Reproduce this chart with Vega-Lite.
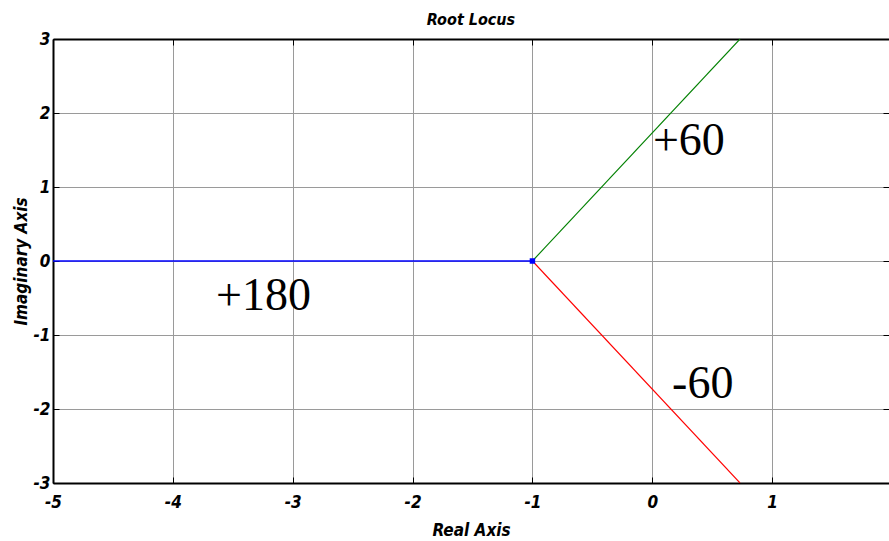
{
  "$schema": "https://vega.github.io/schema/vega-lite/v6.json",
  "width": 836,
  "height": 444,
  "autosize": {"type": "none"},
  "padding": {"left": 53, "top": 39, "right": 0, "bottom": 58},
  "background": "white",
  "title": {"text": "Root Locus", "font": "DejaVu Sans Condensed, Liberation Sans, Arial, sans-serif", "fontSize": 16, "fontStyle": "italic", "fontWeight": "bold", "color": "black", "offset": 2, "anchor": "middle"},
  "config": {
    "view": {"stroke": null},
    "axis": {
      "labelFont": "DejaVu Sans Condensed, Liberation Sans, Arial, sans-serif",
      "labelFontSize": 17,
      "labelFontStyle": "italic",
      "labelFontWeight": "bold",
      "labelColor": "black",
      "labelExpr": "datum.value < 0 ? '-' + abs(datum.value) : '' + datum.value",
      "titleFont": "DejaVu Sans Condensed, Liberation Sans, Arial, sans-serif",
      "titleFontSize": 17,
      "titleFontStyle": "italic",
      "titleFontWeight": "bold",
      "titleColor": "black",
      "domainColor": "black",
      "domainWidth": 2,
      "tickColor": "black",
      "tickWidth": 1,
      "tickSize": -6,
      "gridColor": "#9a9a9a",
      "gridWidth": 1,
      "labelFlush": false,
      "labelOverlap": false
    }
  },
  "datasets": {
    "locus": [
      {"series": "180", "re": -5, "im": 0},
      {"series": "180", "re": -1, "im": 0},
      {"series": "+60", "re": -1, "im": 0},
      {"series": "+60", "re": 0.732, "im": 3},
      {"series": "-60", "re": -1, "im": 0},
      {"series": "-60", "re": 0.732, "im": -3}
    ],
    "pole": [{"re": -1, "im": 0}],
    "notes": [
      {"re": 0.005, "im": 1.432, "label": "+60"},
      {"re": -3.64, "im": -0.662, "label": "+180"},
      {"re": 0.165, "im": -1.851, "label": "-60"}
    ]
  },
  "resolve": {"axis": {"x": "independent", "y": "independent"}},
  "layer": [
    {
      "data": {"name": "locus"},
      "transform": [{"filter": "datum.series != '180'"}],
      "mark": {"type": "line", "strokeWidth": 1.1, "clip": true},
      "encoding": {
        "x": {"field": "re", "type": "quantitative", "scale": {"domain": [-5, 1.975], "nice": false, "zero": false},
          "axis": {"orient": "bottom", "values": [-5, -4, -3, -2, -1, 0, 1, 2], "title": "Real Axis", "grid": true, "labelPadding": 17, "titlePadding": 12}},
        "y": {"field": "im", "type": "quantitative", "scale": {"domain": [-3, 3], "nice": false, "zero": false},
          "axis": {"orient": "left", "values": [-3, -2, -1, 0, 1, 2, 3], "title": "Imaginary Axis", "grid": true, "labelPadding": 9, "titlePadding": 3}},
        "color": {"field": "series", "type": "nominal", "scale": {"domain": ["180", "+60", "-60"], "range": ["#0000ff", "#008000", "#ff0000"]}, "legend": null}
      }
    },
    {
      "data": {"name": "locus"},
      "transform": [{"filter": "datum.series == '180'"}],
      "mark": {"type": "line", "strokeWidth": 1.6, "clip": true},
      "encoding": {
        "x": {"field": "re", "type": "quantitative", "axis": null},
        "y": {"field": "im", "type": "quantitative", "axis": null},
        "color": {"field": "series", "type": "nominal", "legend": null}
      }
    },
    {
      "data": {"name": "pole"},
      "mark": {"type": "square", "filled": true, "size": 30, "color": "#0000ff", "opacity": 1},
      "encoding": {
        "x": {"field": "re", "type": "quantitative",
          "axis": {"orient": "top", "values": [-5, -4, -3, -2, -1, 0, 1, 2], "labels": false, "title": null, "grid": false}},
        "y": {"field": "im", "type": "quantitative",
          "axis": {"orient": "right", "values": [-3, -2, -1, 0, 1, 2, 3], "labels": false, "title": null, "grid": false, "domain": false}}
      }
    },
    {
      "data": {"name": "notes"},
      "mark": {"type": "text", "font": "Times New Roman, Liberation Serif, DejaVu Serif, serif", "fontSize": 46, "align": "left", "baseline": "alphabetic", "color": "black"},
      "encoding": {
        "x": {"field": "re", "type": "quantitative", "axis": null},
        "y": {"field": "im", "type": "quantitative", "axis": null},
        "text": {"field": "label", "type": "nominal"}
      }
    }
  ]
}
